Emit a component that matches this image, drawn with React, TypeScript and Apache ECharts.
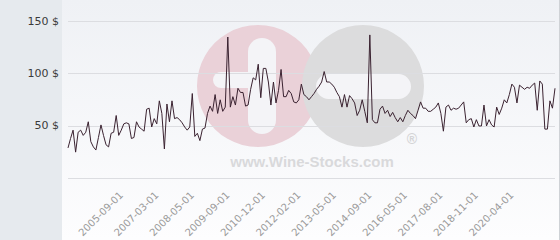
import React, { useEffect, useRef } from "react";
import * as echarts from "echarts";

const DATES: string[] = [
  "2003-12-01",
  "2004-01-01", "2004-02-01", "2004-03-01", "2004-04-01", "2004-05-01", "2004-06-01",
  "2004-07-01", "2004-08-01", "2004-09-01", "2004-10-01", "2004-11-01", "2004-12-01",
  "2005-01-01", "2005-02-01", "2005-03-01", "2005-04-01", "2005-05-01", "2005-06-01",
  "2005-07-01", "2005-08-01",
  "2005-09-01", "2005-10-01", "2005-11-01", "2005-12-01", "2006-01-01", "2006-02-01",
  "2006-03-01", "2006-04-01", "2006-06-01", "2006-07-01", "2006-09-01", "2006-10-01",
  "2006-11-01", "2006-12-01",
  "2007-03-01", "2007-04-01", "2007-05-01", "2007-06-01", "2007-07-01", "2007-08-01",
  "2007-09-01", "2007-10-01", "2007-11-01", "2007-12-01", "2008-01-01", "2008-02-01",
  "2008-03-01", "2008-04-01",
  "2008-05-01", "2008-06-01", "2008-07-01", "2008-08-01", "2008-09-01", "2008-10-01",
  "2008-11-01", "2008-12-01", "2009-01-01", "2009-02-01", "2009-03-01", "2009-05-01",
  "2009-06-01", "2009-07-01",
  "2009-09-01", "2009-10-01", "2009-11-01", "2009-12-01", "2010-01-01", "2010-02-01",
  "2010-03-01", "2010-04-01", "2010-05-01", "2010-06-01", "2010-07-01", "2010-09-01",
  "2010-10-01", "2010-11-01",
  "2010-12-01", "2011-01-01", "2011-02-01", "2011-03-01", "2011-04-01", "2011-05-01",
  "2011-06-01", "2011-07-01", "2011-08-01", "2011-09-01", "2011-10-01", "2011-11-01",
  "2011-12-01", "2012-01-01",
  "2012-02-01", "2012-03-01", "2012-04-01", "2012-05-01", "2012-06-01", "2012-07-01",
  "2012-09-01", "2012-10-01", "2012-11-01", "2012-12-01", "2013-01-01", "2013-02-01",
  "2013-03-01", "2013-04-01",
  "2013-05-01", "2013-06-01", "2013-07-01", "2013-09-01", "2013-10-01", "2013-11-01",
  "2013-12-01", "2014-01-01", "2014-02-01", "2014-03-01", "2014-04-01", "2014-05-01",
  "2014-06-01", "2014-07-01",
  "2014-09-01", "2014-10-01", "2014-11-01", "2014-12-01", "2015-01-01", "2015-03-01",
  "2015-04-01", "2015-06-01", "2015-07-01", "2015-09-01", "2015-10-01", "2015-11-01",
  "2016-01-01", "2016-03-01",
  "2016-05-01", "2016-06-01", "2016-07-01", "2016-09-01", "2016-10-01", "2016-11-01",
  "2016-12-01", "2017-01-01", "2017-02-01", "2017-03-01", "2017-04-01", "2017-05-01",
  "2017-06-01", "2017-07-01",
  "2017-08-01", "2017-09-01", "2017-10-01", "2017-11-01", "2017-12-01", "2018-01-01",
  "2018-02-01", "2018-03-01", "2018-04-01", "2018-05-01", "2018-06-01", "2018-07-01",
  "2018-09-01", "2018-10-01",
  "2018-11-01", "2018-12-01", "2019-01-01", "2019-02-01", "2019-03-01", "2019-04-01",
  "2019-05-01", "2019-06-01", "2019-09-01", "2019-10-01", "2019-11-01", "2019-12-01",
  "2020-01-01", "2020-02-01",
  "2020-04-01", "2020-05-01", "2020-06-01", "2020-07-01", "2020-08-01", "2020-09-01",
  "2020-10-01", "2020-11-01", "2020-12-01", "2021-01-01", "2021-02-01", "2021-03-01",
  "2021-04-01", "2021-05-01", "2021-06-01", "2021-07-01", "2021-08-01", "2021-09-01",
];

const PRICES: number[] = [
  29, 38, 46, 25, 44, 46, 41, 44, 54, 35,
  30, 27, 39, 51, 41, 32, 30, 43, 44, 60,
  41, 46, 52, 53, 52, 38, 39, 54, 49, 47,
  45, 66, 67, 49, 57, 52, 74, 62, 28, 71,
  54, 74, 57, 58, 56, 53, 49, 46, 49, 81,
  40, 43, 36, 47, 48, 62, 69, 64, 80, 62,
  75, 64, 68, 135, 68, 78, 70, 86, 82, 82,
  69, 70, 85, 96, 94, 109, 77, 105, 105, 92,
  70, 92, 72, 84, 104, 78, 78, 84, 81, 73,
  72, 75, 90, 80, 78, 75, 78, 81, 85, 88,
  92, 102, 92, 92, 90, 87, 82, 78, 68, 80,
  68, 79, 76, 72, 60, 65, 75, 64, 53, 137,
  56, 53, 53, 66, 69, 62, 65, 59, 63, 58,
  54, 58, 54, 60, 65, 62, 60, 57, 65, 73,
  67, 67, 64, 64, 66, 68, 72, 62, 45, 68,
  70, 65, 67, 66, 67, 70, 73, 53, 56, 57,
  49, 56, 50, 50, 70, 50, 56, 51, 49, 68,
  61, 67, 75, 72, 80, 90, 87, 72, 89, 87,
  85, 87, 86, 89, 91, 65, 93, 90, 47, 47,
  74, 67, 86,
];

const TICK_LABELS: string[] = [
  "2005-09-01", "2007-03-01", "2008-05-01", "2009-09-01", "2010-12-01", "2012-02-01",
  "2013-05-01", "2014-09-01", "2016-05-01", "2017-08-01", "2018-11-01", "2020-04-01",
];

const Y_TICKS: number[] = [0, 50, 100, 150];

export default function App() {
  const ref = useRef<HTMLDivElement>(null);

  useEffect(() => {
    if (!ref.current) return;
    const chart = echarts.init(ref.current, undefined, { renderer: "svg" });
    chart.setOption({
      animation: false,
      backgroundColor: {
        type: "linear",
        x: 0, y: 0, x2: 0, y2: 1,
        colorStops: [
          { offset: 0, color: "#eff1f5" },
          { offset: 1, color: "#fdfdfe" },
        ],
      },
      grid: {
        left: 68,
        right: 5,
        top: 21.3,
        bottom: 61.7,
        containLabel: false,
        outerBoundsMode: "none",
      },
      graphic: [
        { type: "rect", z: -5, shape: { x: 0, y: 0, width: 62, height: 240 }, style: { fill: "#e6eaee" } },
        { type: "rect", z: -5, shape: { x: 559, y: 0, width: 1, height: 240 }, style: { fill: "#cfd2d6" } },
        { type: "circle", z: -4, shape: { cx: 258, cy: 86, r: 61 }, style: { fill: "#ead1d8" } },
        { type: "circle", z: -4, shape: { cx: 363, cy: 86, r: 61 }, style: { fill: "#dcdcdd" } },
        { type: "rect", z: -3, shape: { x: 248, y: 38, width: 28, height: 96, r: 14 }, style: { fill: "#f4f4f7" } },
        { type: "rect", z: -3, shape: { x: 213, y: 72, width: 45, height: 16, r: 8 }, style: { fill: "#f4f4f7" } },
        { type: "rect", z: -3, shape: { x: 316, y: 74, width: 95, height: 25, r: 12.5 }, style: { fill: "#f4f4f7" } },
        {
          type: "text", z: -3, x: 312, y: 161,
          style: {
            text: "www.Wine-Stocks.com",
            font: "bold 15px 'Liberation Sans', Arial, sans-serif",
            fill: "#d9d9db",
            align: "center",
            verticalAlign: "middle",
          },
        },
        {
          type: "text", z: -3, x: 412, y: 139,
          style: {
            text: "®",
            font: "bold 14px 'Liberation Sans', Arial, sans-serif",
            fill: "#d4d4d6",
            align: "center",
            verticalAlign: "middle",
          },
        },
      ],
      xAxis: {
        type: "category",
        data: DATES,
        boundaryGap: false,
        axisLine: { show: false },
        axisTick: { show: false },
        splitLine: { show: false },
        axisLabel: {
          interval: (_idx: number, value: string) => TICK_LABELS.includes(value),
          rotate: 45,
          margin: 15,
          color: "#9a9a9a",
          fontSize: 10,
          fontFamily: "'DejaVu Sans', sans-serif",
        },
      },
      yAxis: {
        type: "value",
        min: Y_TICKS[0],
        max: Y_TICKS[Y_TICKS.length - 1],
        interval: 50,
        axisLine: { show: false },
        axisTick: { show: false },
        splitLine: { lineStyle: { color: "#dcdde1", width: 1 } },
        axisLabel: {
          margin: 9,
          color: "#3a3a3a",
          fontSize: 11,
          fontFamily: "'DejaVu Sans', sans-serif",
          formatter: (v: number) => (v === 0 ? "" : `${v} $`),
        },
      },
      series: [
        {
          type: "line",
          data: PRICES,
          symbol: "none",
          lineStyle: { color: "#3a2230", width: 1 },
          z: 3,
        },
      ],
    });
    return () => chart.dispose();
  }, []);

  return (
    <div
      ref={ref}
      style={{ position: "fixed", left: 0, top: 0, width: 560, height: 240 }}
    />
  );
}
